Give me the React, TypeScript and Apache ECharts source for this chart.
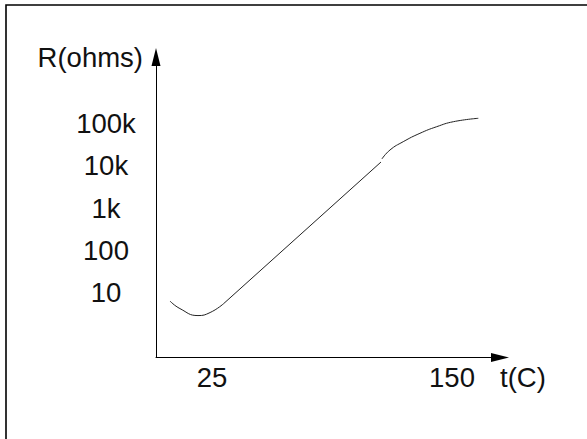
import React, { useEffect, useRef } from "react";
import * as echarts from "echarts";

// Temperature (°C) and resistance (ohms)
const arc1T = [3.1, 8.3, 17.7, 24.0, 30.9];
const arc1R = [6.2, 4.1, 2.8, 3.3, 5.3];
const lineT = [30.9, 113.0];
const lineR = [5.3, 12400];
const arc2T = [113.5, 117.7, 124.6, 133.3, 142.0, 150.7, 163.7];
const arc2R = [14700, 24000, 37800, 59800, 85700, 112700, 135800];

const xTickValues = [25, 150];
const yTickExp = [1, 2, 3, 4, 5];
const yTickLabels = ["10", "100", "1k", "10k", "100k"];

const FONT = "'Liberation Sans', Arial, sans-serif";
const FS = 27.5;

const toPts = (ts: number[], rs: number[]) => ts.map((t, i) => [t, Math.log10(rs[i])]);

export default function App() {
  const ref = useRef<HTMLDivElement>(null);
  useEffect(() => {
    if (!ref.current) return;
    const chart = echarts.init(ref.current, null, { renderer: "svg" });
    const lineStyle = { color: "#222", width: 1 };
    chart.setOption({
      animation: false,
      backgroundColor: "#fff",
      graphic: [
        {
          type: "rect",
          shape: { x: 6, y: 5, width: 640, height: 500 },
          style: { fill: "none", stroke: "#000", lineWidth: 1.6 },
          silent: true,
        },
      ],
      grid: { left: 156, right: 87, top: 57, bottom: 81.5 },
      xAxis: {
        type: "value",
        min: -4.17,
        max: 175,
        splitLine: { show: false },
        axisTick: { show: false },
        axisLine: {
          show: true,
          onZero: false,
          symbol: ["none", "triangle"],
          symbolSize: [9, 18],
          lineStyle: { color: "#000", width: 1 },
        },
        axisLabel: {
          customValues: xTickValues,
          margin: 19.5,
          verticalAlign: "middle",
          fontSize: FS,
          fontFamily: FONT,
          color: "#111",
        },
        name: "\nt(C)",
        nameLocation: "end",
        nameGap: 0,
        nameTextStyle: {
          fontSize: FS,
          fontFamily: FONT,
          color: "#111",
          align: "left",
          verticalAlign: "middle",
          lineHeight: 39,
        },
      },
      yAxis: {
        type: "value",
        min: -0.549,
        max: 6.589,
        splitLine: { show: false },
        axisTick: { show: false },
        axisLine: {
          show: true,
          onZero: false,
          symbol: ["none", "triangle"],
          symbolSize: [9, 18],
          lineStyle: { color: "#000", width: 1 },
        },
        axisLabel: {
          customValues: yTickExp,
          formatter: (v: number) => yTickLabels[yTickExp.indexOf(Math.round(v))] ?? "",
          margin: 50,
          align: "center",
          fontSize: FS,
          fontFamily: FONT,
          color: "#111",
        },
        name: "R(ohms)",
        nameLocation: "end",
        nameGap: 0,
        nameTextStyle: {
          fontSize: FS,
          fontFamily: FONT,
          color: "#111",
          align: "right",
          verticalAlign: "middle",
          padding: [0, 13, 0, 0],
        },
      },
      series: [
        { type: "line", data: toPts(arc1T, arc1R), smooth: 0.5, showSymbol: false, lineStyle },
        { type: "line", data: toPts(lineT, lineR), showSymbol: false, lineStyle },
        { type: "line", data: toPts(arc2T, arc2R), smooth: 0.5, showSymbol: false, lineStyle },
      ],
    });
    return () => chart.dispose();
  }, []);
  return (
    <div
      ref={ref}
      style={{ position: "absolute", left: 0, top: 0, width: 587, height: 439 }}
    />
  );
}
